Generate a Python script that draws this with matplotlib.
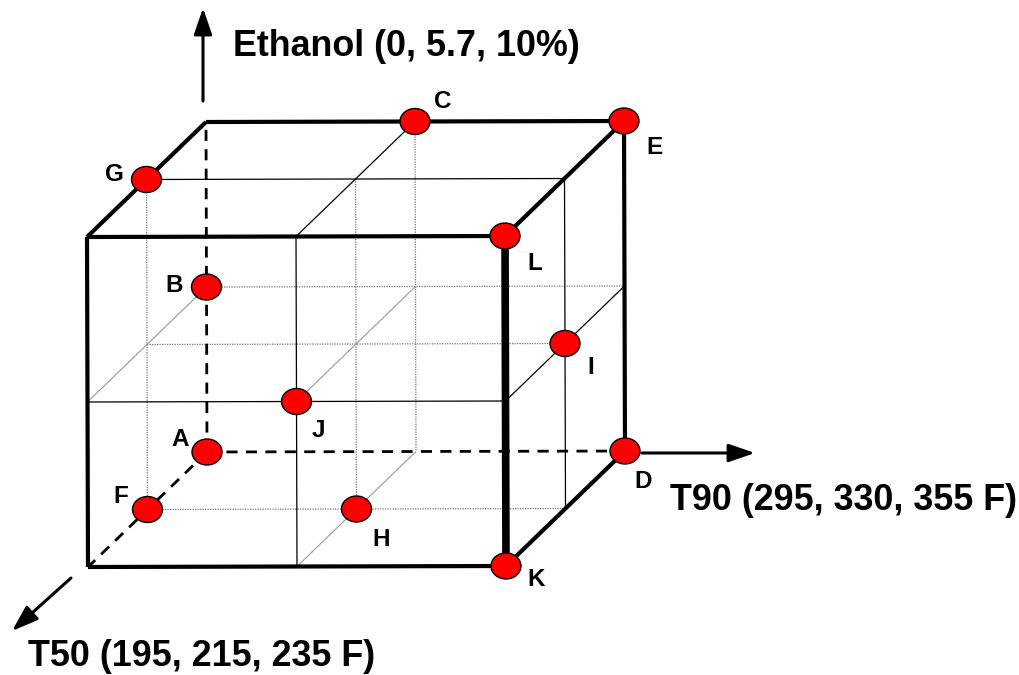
import matplotlib.pyplot as plt
from matplotlib.patches import Ellipse

# design points: name, coded levels (T90, Ethanol, T50)
names = ['A', 'B', 'C', 'D', 'E', 'F', 'G', 'H', 'I', 'J', 'K', 'L']
t90 = [0, 0, 0.5, 1, 1, 0, 0, 0.5, 1, 0.5, 1, 1]
eth = [0, 0.5, 1, 0, 1, 0, 1, 0, 0.5, 0.5, 0, 1]
t50 = [0, 0, 0, 0, 0, 0.5, 0.5, 0.5, 0.5, 1, 1, 1]

axis_labels = ['Ethanol (0, 5.7, 10%)', 'T90 (295, 330, 355 F)', 'T50 (195, 215, 235 F)']

# label offsets (pixels) for the point letters
lab_dx = [-27, -32, 28, 18, 31, -27, -32, 25, 26, 22, 30, 30]
lab_dy = [-12, -2, -20, 30, 26, -13, -5, 30, 24, 29, 13, 27]

# oblique projection, pixel coordinates
O = (207, 452)
EX = (418, -1)
EY = (-1, -330)
EZ = (-119, 115)


def proj(x, y, z):
    return (O[0] + x * EX[0] + y * EY[0] + z * EZ[0],
            O[1] + x * EX[1] + y * EY[1] + z * EZ[1])


def seg(ax, p, q, **kw):
    a = proj(*p)
    b = proj(*q)
    ax.plot([a[0], b[0]], [a[1], b[1]], solid_capstyle='butt', **kw)


fig = plt.figure(figsize=(10.19, 6.75), dpi=100)
ax = fig.add_axes([0, 0, 1, 1])
ax.set_xlim(0, 1019)
ax.set_ylim(675, 0)
ax.set_aspect('equal')
ax.axis('off')

thin = dict(color='black', lw=0.9)
dot = dict(color='#777777', lw=0.9, ls=(0, (1, 1)))
grey = dict(color='#999999', lw=0.8)

# hidden grid lines
seg(ax, (0, 1, 0.5), (0, 0, 0.5), **dot)        # G-F
seg(ax, (0, 0.5, 0), (1, 0.5, 0), **dot)        # B line
seg(ax, (0.5, 1, 0), (0.5, 0, 0), **dot)        # C down
seg(ax, (0, 0.5, 0.5), (1, 0.5, 0.5), **dot)    # middle line to I
seg(ax, (0.5, 1, 0.5), (0.5, 0, 0.5), **dot)    # middle vertical to H
seg(ax, (0, 0, 0.5), (1, 0, 0.5), **dot)        # F line
seg(ax, (0, 0.5, 0), (0, 0.5, 1), **grey)       # B depth
seg(ax, (0.5, 0.5, 0), (0.5, 0.5, 1), **grey)   # J depth
seg(ax, (0.5, 0, 0), (0.5, 0, 1), **grey)       # H depth

# visible grid lines
seg(ax, (0.5, 1, 0), (0.5, 1, 1), **thin)
seg(ax, (0, 1, 0.5), (1, 1, 0.5), **thin)
seg(ax, (0.5, 1, 1), (0.5, 0, 1), **thin)
seg(ax, (0, 0.5, 1), (1, 0.5, 1), **thin)
seg(ax, (1, 1, 0.5), (1, 0, 0.5), **thin)
seg(ax, (1, 0.5, 0), (1, 0.5, 1), **thin)

# dashed hidden axes
dash = dict(color='black', lw=2, ls=(0, (4, 3)))
seg(ax, (0, 0, 0), (0, 1, 0), **dash)
seg(ax, (0, 0, 0), (1, 0, 0), **dash)
seg(ax, (0, 0, 0), (0, 0, 1), **dash)

# cube edges
thick = dict(color='black', lw=3)
seg(ax, (0, 1, 0), (1, 1, 0), **thick)
seg(ax, (0, 1, 0), (0, 1, 1), **thick)
seg(ax, (1, 1, 0), (1, 1, 1), **thick)
seg(ax, (1, 1, 0), (1, 0, 0), **thick)
seg(ax, (1, 0, 0), (1, 0, 1), **thick)
seg(ax, (0, 1, 1), (1, 1, 1), **thick)
seg(ax, (0, 1, 1), (0, 0, 1), **thick)
seg(ax, (0, 0, 1), (1, 0, 1), **thick)
seg(ax, (1, 0, 1), (1, 1, 1), color='black', lw=5.5)

# axis arrows
arw = dict(arrowstyle='-|>,head_length=1.6,head_width=0.55', color='black', lw=2.2,
           shrinkA=0, shrinkB=0)
ax.annotate('', xy=(203, 8), xytext=(203, 101), arrowprops=arw)
ax.annotate('', xy=(755, 453), xytext=(642, 453), arrowprops=arw)
ax.annotate('', xy=(12, 631), xytext=(71, 578), arrowprops=arw)

font = dict(family=['Liberation Sans', 'DejaVu Sans'], weight='bold', color='black')
ax.text(233, 47, axis_labels[0], fontsize=25.8, va='center', ha='left', **font)
ax.text(670, 500, axis_labels[1], fontsize=25.8, va='center', ha='left', **font)
ax.text(28, 657, axis_labels[2], fontsize=25.8, va='center', ha='left', **font)

# design points
for i, n in enumerate(names):
    px, py = proj(t90[i], eth[i], t50[i])
    ax.add_patch(Ellipse((px, py), 30, 26, facecolor='red', edgecolor='black',
                         lw=1, zorder=5))
    ax.text(px + lab_dx[i], py + lab_dy[i], n, fontsize=17.5, ha='center',
            va='center', zorder=6, **font)

fig.savefig('out.png', dpi=100)
